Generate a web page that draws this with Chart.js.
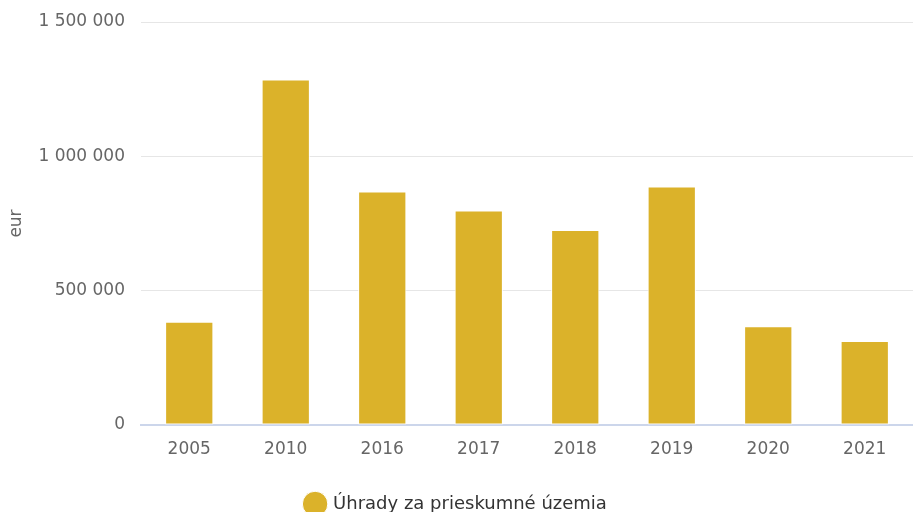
<!DOCTYPE html>
<html>
<head>
<meta charset="utf-8">
<script src="https://cdn.jsdelivr.net/npm/chart.js@4/dist/chart.umd.min.js"></script>
<style>
    html, body { margin: 0; padding: 0; background: #fff; overflow: hidden; }
    #wrap { width: 913px; height: 523px; position: relative; }
</style>
</head>
<body>
<div id="wrap"><canvas id="feesChart"></canvas></div>
<script>
// Chart data
const years = ['2005', '2010', '2016', '2017', '2018', '2019', '2020', '2021'];
const fees = [384000, 1286000, 869000, 798000, 726000, 888000, 368000, 313000];
const seriesName = 'Úhrady za prieskumné územia';
const yTicks = [0, 500000, 1000000, 1500000];

const barColor = '#dbb22a';
const textColor = '#666666';

// Format numbers with space as thousand separator
function formatNumber(value) {
    return String(value).replace(/\B(?=(\d{3})+(?!\d))/g, ' ');
}

new Chart(document.getElementById('feesChart'), {
    type: 'bar',
    data: {
        labels: years,
        datasets: [{
            label: seriesName,
            data: fees,
            backgroundColor: barColor,
            borderColor: '#ffffff',
            borderWidth: 1,
            borderSkipped: false,
            barPercentage: 0.5,
            categoryPercentage: 1
        }]
    },
    options: {
        responsive: true,
        maintainAspectRatio: false,
        animation: false,
        layout: { padding: { top: 22, left: 0, right: 0, bottom: 0 } },
        plugins: {
            tooltip: { enabled: false },
            legend: {
                position: 'bottom',
                labels: {
                    usePointStyle: true,
                    pointStyle: 'circle',
                    boxWidth: 18,
                    boxHeight: 18,
                    padding: 12,
                    color: '#333333',
                    font: { family: 'DejaVu Sans', size: 18 }
                }
            }
        },
        scales: {
            x: {
                grid: { display: false },
                border: { color: '#ccd6eb', width: 2 },
                ticks: {
                    color: textColor,
                    padding: 6,
                    font: { family: 'DejaVu Sans', size: 17 }
                },
                afterFit: scale => { scale.height = 58; }
            },
            y: {
                min: 0,
                max: 1500000,
                afterBuildTicks: scale => { scale.ticks = yTicks.map(v => ({ value: v })); },
                grid: { color: '#e6e6e6', lineWidth: 1, drawTicks: false },
                border: { display: false },
                ticks: {
                    color: textColor,
                    padding: 16,
                    font: { family: 'DejaVu Sans', size: 17 },
                    callback: value => formatNumber(value)
                },
                title: {
                    display: true,
                    text: 'eur',
                    color: textColor,
                    font: { family: 'DejaVu Sans', size: 17 },
                    padding: { top: 6, bottom: 0 }
                },
                afterFit: scale => {
                    scale.width = 141;
                    scale.paddingTop = 0;
                }
            }
        }
    }
});
</script>
</body>
</html>
